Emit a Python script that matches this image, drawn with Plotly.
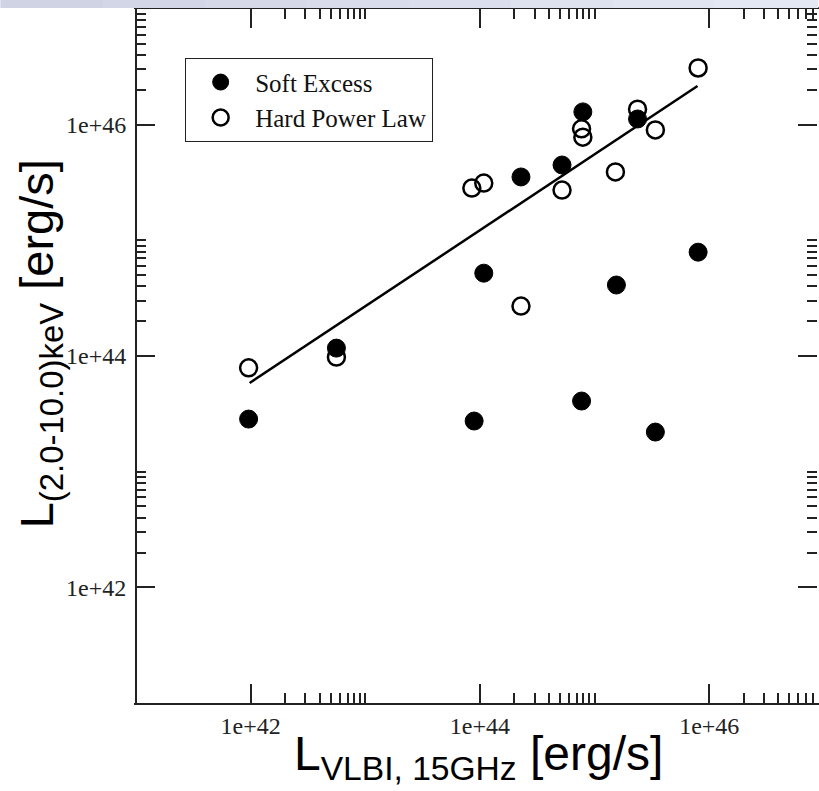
import plotly.graph_objects as go

# ---- data ----
soft_x = [9.6e41, 5.6e42, 8.9e43, 1.08e44, 2.28e44, 5.2e44, 7.9e44, 7.7e44, 1.55e45, 2.37e45, 3.39e45, 8.0e45]
soft_y = [2.85e43, 1.17e44, 2.74e43, 5.2e44, 3.53e45, 4.48e45, 1.29e46, 4.08e43, 4.11e44, 1.12e46, 2.20e43, 7.9e44]

hard_x = [9.6e41, 5.6e42, 8.5e43, 1.08e44, 2.28e44, 5.2e44, 7.7e44, 7.9e44, 1.52e45, 2.37e45, 3.39e45, 8.0e45]
hard_y = [7.9e43, 9.8e43, 2.83e45, 3.13e45, 2.70e44, 2.72e45, 9.2e45, 7.8e45, 3.90e45, 1.36e46, 9.0e45, 3.09e46]

fit_x = [9.8e41, 7.9e45]
fit_y = [5.85e43, 2.16e46]

tick_vals = [1e42, 1e44, 1e46]
tick_text = ["1e+42", "1e+44", "1e+46"]
minor_vals = [m * 10.0 ** e for e in (40, 42, 44, 46) for m in range(2, 11)]

series_names = ["Soft Excess", "Hard Power Law"]
x_title = "L<sub>VLBI, 15GHz</sub> [erg/s]"
y_title = "L<sub>(2.0-10.0)keV</sub> [erg/s]"

SERIF = "Liberation Serif, Times New Roman, serif"
SANS = "Liberation Sans, Arial, sans-serif"

fig = go.Figure()

fig.add_trace(go.Scatter(
    x=fit_x, y=fit_y, mode="lines", showlegend=False,
    line=dict(color="black", width=2.5), hoverinfo="skip"))

fig.add_trace(go.Scatter(
    x=hard_x, y=hard_y, mode="markers", name=series_names[1], legendrank=2,
    marker=dict(symbol="circle-open", size=17, color="black",
                line=dict(color="black", width=2.5))))

fig.add_trace(go.Scatter(
    x=soft_x, y=soft_y, mode="markers", name=series_names[0], legendrank=1,
    marker=dict(symbol="circle", size=18, color="black",
                line=dict(color="black", width=1))))

axis_common = dict(
    type="log",
    tickmode="array", tickvals=tick_vals, ticktext=tick_text,
    ticks="inside", ticklen=19, tickwidth=1.5, tickcolor="#222",
    minor=dict(tickmode="array", tickvals=minor_vals, ticks="inside",
               ticklen=10, tickwidth=1.5, tickcolor="#222", showgrid=False),
    showgrid=False, zeroline=False, mirror="ticks", showline=True,
    tickfont=dict(family=SERIF, size=24, color="#222"),
)

fig.update_xaxes(**axis_common, range=[41, 46.94], linecolor="#222", linewidth=2,
                 ticklabelstandoff=0)
fig.update_yaxes(**axis_common, range=[41, 47], linecolor="rgba(0,0,0,0)", linewidth=2,
                 ticklabelstandoff=3)

shapes = []
# light slide-background band at the very top
band_cols = ["#cfd3e3", "#d2d6e6", "#d5d9e8", "#d8dceb", "#dbdfed", "#dee2ef", "#e1e5f2", "#e4e8f4"]
n = len(band_cols)
x_left, x_right = -136 / 683, 1.0
for i, c in enumerate(band_cols):
    shapes.append(dict(type="rect", xref="paper", yref="paper",
                       x0=x_left + (x_right - x_left) * i / n,
                       x1=x_left + (x_right - x_left) * (i + 1) / n + 0.002,
                       y0=(703 - 8) / 694, y1=(703 + 2) / 694,
                       line=dict(width=0), fillcolor=c, layer="above"))
# left axis line (right one is outside the visible window)
shapes.append(dict(type="line", xref="paper", yref="paper", x0=0, x1=0, y0=0, y1=1,
                   line=dict(color="#222", width=2)))

fig.update_layout(
    width=819, height=791, autosize=False,
    margin=dict(l=136, r=0, t=9, b=88, pad=0),
    paper_bgcolor="white", plot_bgcolor="white",
    shapes=shapes,
    showlegend=True,
    legend=dict(x=(185 - 136) / 683, y=(703 - 58) / 694, xanchor="left", yanchor="top",
                bgcolor="white", bordercolor="#222", borderwidth=1.3,
                font=dict(family=SERIF, size=25, color="#111"),
                itemwidth=59, traceorder="normal", tracegroupgap=0),
    annotations=[
        dict(text=x_title, xref="paper", yref="paper",
             x=(480 - 136) / 683, y=(703 - 757) / 694,
             xanchor="center", yanchor="middle", showarrow=False,
             font=dict(family=SANS, size=48, color="black")),
        dict(text=y_title, xref="paper", yref="paper",
             x=(40 - 136) / 683, y=(703 - 344) / 694, textangle=-90,
             xanchor="center", yanchor="middle", showarrow=False,
             font=dict(family=SANS, size=47, color="black")),
    ],
)

fig.write_html("out.html",
               config={"displayModeBar": False},
               post_script="document.body.style.margin='0';document.body.style.overflow='hidden';")
